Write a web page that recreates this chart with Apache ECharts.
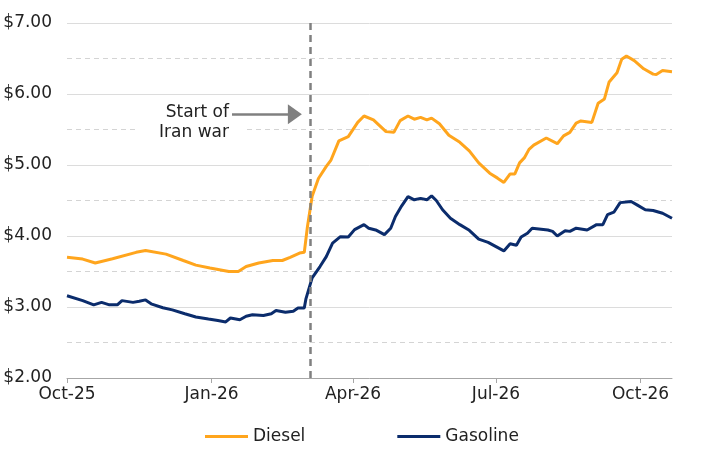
<!DOCTYPE html>
<html>
<head>
<meta charset="utf-8">
<script src="https://cdn.jsdelivr.net/npm/echarts@6/dist/echarts.min.js"></script>
<style>html,body{margin:0;padding:0;background:#fff}#c{width:718px;height:454px}</style>
</head>
<body>
<div id="c"></div>
<script>
// ---- data ----
const dieselDates = ['2025-10-01','2025-10-11','2025-10-19','2025-10-30','2025-11-14','2025-11-20','2025-12-03','2025-12-14','2025-12-22','2025-12-31',
  '2026-01-12','2026-01-18','2026-01-23','2026-01-31','2026-02-09','2026-02-15','2026-02-20','2026-02-26','2026-03-01','2026-03-03','2026-03-06',
  '2026-03-10','2026-03-15','2026-03-18','2026-03-23','2026-03-29','2026-04-04','2026-04-08','2026-04-14','2026-04-22','2026-04-27',
  '2026-05-01','2026-05-06','2026-05-10','2026-05-14','2026-05-18','2026-05-21','2026-05-26','2026-06-01','2026-06-08','2026-06-14',
  '2026-06-20','2026-06-27','2026-07-02','2026-07-06','2026-07-10','2026-07-13','2026-07-16','2026-07-19','2026-07-22','2026-07-25',
  '2026-08-02','2026-08-09','2026-08-13','2026-08-17','2026-08-21','2026-08-24','2026-08-31','2026-09-04','2026-09-08','2026-09-11',
  '2026-09-16','2026-09-19','2026-09-22','2026-09-27','2026-10-03','2026-10-09','2026-10-11','2026-10-15','2026-10-21'];
const dieselPrices = [3.70,3.675,3.62,3.68,3.77,3.795,3.745,3.655,3.59,3.55,
  3.50,3.50,3.57,3.62,3.655,3.655,3.70,3.76,3.77,4.13,4.56,
  4.81,4.98,5.07,5.34,5.40,5.60,5.69,5.635,5.47,5.46,
  5.625,5.69,5.645,5.67,5.635,5.66,5.58,5.42,5.32,5.20,
  5.03,4.885,4.815,4.755,4.875,4.875,5.03,5.10,5.22,5.28,
  5.38,5.30,5.41,5.46,5.59,5.62,5.60,5.87,5.93,6.17,
  6.30,6.49,6.535,6.47,6.355,6.28,6.275,6.33,6.315];

const gasolineDates = ['2025-10-01','2025-10-11','2025-10-18','2025-10-23','2025-10-28','2025-11-02','2025-11-05','2025-11-12','2025-11-16','2025-11-20',
  '2025-11-24','2025-12-01','2025-12-07','2025-12-15','2025-12-22','2025-12-30','2026-01-05','2026-01-10','2026-01-13','2026-01-19',
  '2026-01-23','2026-01-27','2026-02-03','2026-02-08','2026-02-11','2026-02-17','2026-02-22','2026-02-25','2026-03-01','2026-03-02',
  '2026-03-06','2026-03-11','2026-03-15','2026-03-19','2026-03-24','2026-03-29','2026-04-02','2026-04-08','2026-04-11','2026-04-16',
  '2026-04-21','2026-04-25','2026-04-28','2026-05-02','2026-05-06','2026-05-10','2026-05-14','2026-05-18','2026-05-21','2026-05-24',
  '2026-05-28','2026-06-02','2026-06-08','2026-06-14','2026-06-20','2026-06-26','2026-07-01','2026-07-06','2026-07-10','2026-07-14',
  '2026-07-17','2026-07-21','2026-07-24','2026-08-03','2026-08-06','2026-08-09','2026-08-14','2026-08-17','2026-08-21','2026-08-28',
  '2026-09-03','2026-09-07','2026-09-10','2026-09-14','2026-09-18','2026-09-25','2026-09-29','2026-10-04','2026-10-09','2026-10-15','2026-10-21'];
const gasolinePrices = [3.158,3.09,3.03,3.065,3.03,3.03,3.09,3.065,3.08,3.10,
  3.04,2.99,2.96,2.905,2.86,2.83,2.81,2.79,2.845,2.82,
  2.87,2.89,2.88,2.905,2.95,2.925,2.94,2.985,2.985,3.11,
  3.41,3.57,3.71,3.90,3.99,3.985,4.09,4.16,4.11,4.08,
  4.02,4.11,4.275,4.425,4.555,4.51,4.53,4.51,4.565,4.50,
  4.37,4.25,4.16,4.08,3.955,3.91,3.85,3.79,3.89,3.87,
  3.985,4.04,4.11,4.085,4.065,4.00,4.075,4.065,4.11,4.085,
  4.16,4.16,4.30,4.335,4.47,4.485,4.435,4.37,4.36,4.32,4.25];

const xTickDates = ['2025-10-01','2026-01-01','2026-04-01','2026-07-01','2026-10-01'];
const xRange = ['2025-10-01','2026-10-21'];
const yTickValues = [2, 3, 4, 5, 6, 7];
const warDate = '2026-03-05';
const warLineTop = 7.06;
const arrowFrom = '2026-01-14';
const arrowTo = '2026-02-23';
const arrowLevel = 5.715;
const seriesNames = ['Diesel', 'Gasoline'];
const annotationText = 'Start of\nIran war';

// ---- chart ----
const months = ['Jan','Feb','Mar','Apr','May','Jun','Jul','Aug','Sep','Oct','Nov','Dec'];
function ts(s){ const p = s.split('-').map(Number); return new Date(p[0], p[1]-1, p[2]).getTime(); }
const FONT = 'DejaVu Sans';
const chart = echarts.init(document.getElementById('c'), null, {renderer:'canvas'});
const zip = (d, v) => d.map((x, i) => [ts(x), v[i]]);
const GREY = '#808080';

chart.setOption({
  animation: false,
  textStyle: {fontFamily: FONT},
  grid: {left: 67, right: 46, top: 23, bottom: 76, containLabel: false},
  legend: {
    data: seriesNames, left: 205, top: 428, icon: 'rect', itemWidth: 43, itemHeight: 3,
    itemGap: 92, padding: 0, textStyle: {fontSize: 17, color: '#222', fontFamily: FONT}
  },
  xAxis: {
    type: 'value', min: ts(xRange[0]), max: ts(xRange[1]),
    axisLine: {lineStyle: {color: '#a6a6a6', width: 1}},
    axisTick: {show: true, length: 5, lineStyle: {color: '#a6a6a6'}, customValues: xTickDates.map(ts)},
    axisLabel: {
      customValues: xTickDates.map(ts), fontSize: 17, color: '#222', margin: 8, fontFamily: FONT,
      showMinLabel: true, showMaxLabel: true,
      formatter: v => { const d = new Date(v); return months[d.getMonth()] + '-' + String(d.getFullYear()).slice(2); }
    },
    splitLine: {show: false}
  },
  yAxis: [{
    type: 'value', min: yTickValues[0], max: yTickValues[yTickValues.length-1], interval: 1,
    axisLine: {show: false}, axisTick: {show: false},
    axisLabel: {fontSize: 17, color: '#222', margin: 15, fontFamily: FONT, formatter: v => '$' + v.toFixed(2)},
    splitLine: {lineStyle: {color: '#dcdcdc', width: 1}}
  }, {
    type: 'value', min: 2, max: 7, interval: 0.5, position: 'left',
    axisLine: {show: false}, axisTick: {show: false}, axisLabel: {show: false},
    splitLine: {lineStyle: {color: ['rgba(0,0,0,0)', '#d4d4d4'], type: [5, 4], width: 1}}
  }],
  series: [{
    name: seriesNames[0], type: 'line', data: zip(dieselDates, dieselPrices),
    showSymbol: false, color: '#FFA51D', lineStyle: {width: 3, color: '#FFA51D'}, z: 3
  }, {
    name: seriesNames[1], type: 'line', data: zip(gasolineDates, gasolinePrices),
    showSymbol: false, color: '#0B2C6C', lineStyle: {width: 3, color: '#0B2C6C'}, z: 4
  }]
});

// annotation positioned through the axes
const pBottom = chart.convertToPixel({xAxisIndex: 0, yAxisIndex: 0}, [ts(warDate), yTickValues[0]]);
const pTop = chart.convertToPixel({xAxisIndex: 0, yAxisIndex: 0}, [ts(warDate), warLineTop]);
const pArrowStart = chart.convertToPixel({xAxisIndex: 0, yAxisIndex: 0}, [ts(arrowFrom), arrowLevel]);
chart.setOption({
  graphic: [{
    type: 'text', x: pArrowStart[0] + 15, y: pArrowStart[1] - 14, z: 1,
    style: {
      text: annotationText, fill: '#222', font: '17px "' + FONT + '"', align: 'right', verticalAlign: 'top',
      lineHeight: 20, backgroundColor: '#fff', padding: [2, 18, 2, 22]
    }
  }],
  series: [{}, {
    markLine: {
      silent: true, animation: false, label: {show: false}, z: 10,
      data: [
        [{x: pBottom[0], y: pBottom[1], symbol: 'none', lineStyle: {color: GREY, width: 2.5, type: [7, 5]}},
         {x: pTop[0], y: pTop[1], symbol: 'none'}],
        [{coord: [ts(arrowFrom), arrowLevel], symbol: 'none', lineStyle: {color: GREY, width: 2.5, type: 'solid'}},
         {coord: [ts(arrowTo), arrowLevel], symbol: 'triangle', symbolSize: [20, 14]}]
      ]
    }
  }]
});
</script>
</body>
</html>
